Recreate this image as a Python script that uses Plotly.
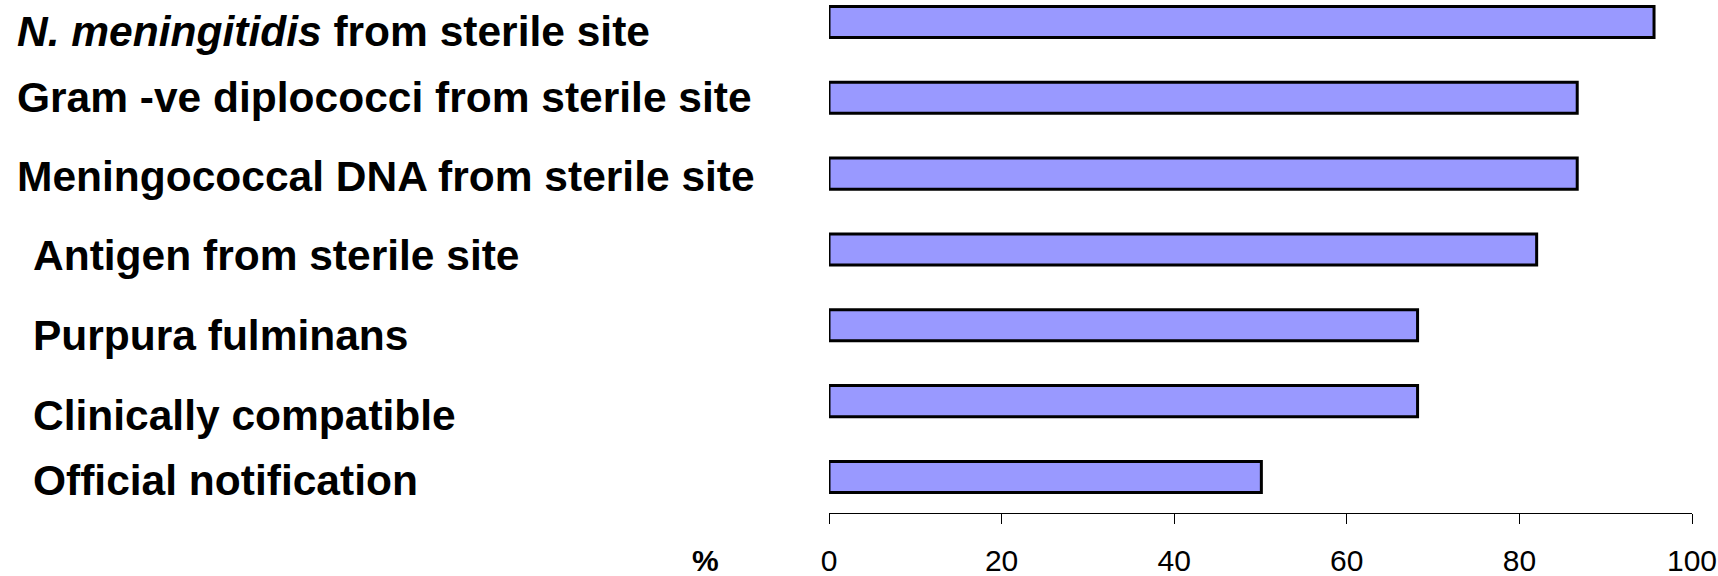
import plotly.graph_objects as go

# ---- data (top to bottom as shown) ----
categories = [
    "<i>N. meningitidis</i> from sterile site",
    "Gram -ve diplococci from sterile site",
    "Meningococcal DNA from sterile site",
    "Antigen from sterile site",
    "Purpura fulminans",
    "Clinically compatible",
    "Official notification",
]
values = [95.6, 86.7, 86.7, 82.0, 68.2, 68.2, 50.1]
x_ticks = [0, 20, 40, 60, 80, 100]
x_title = "%"

# ---- layout constants (pixels) ----
W, H = 1718, 576
ML, MR, MT, MB = 829, 26, 0, 63
PW = W - ML - MR
PH = H - MT - MB

label_left_px = [15, 15, 15, 31, 31, 31, 31]
label_shift_px = [-10, 0, -3, -6, -10, -14, -4]

# plot bottom-first for plotly
cats_b = categories[::-1]
vals_b = values[::-1]

fig = go.Figure(go.Bar(
    y=cats_b, x=vals_b, orientation="h", width=0.41,
    marker=dict(color="#9999FF", line=dict(color="black", width=3)),
    hoverinfo="skip",
))

font_family = "Liberation Sans, Arial, sans-serif"
annotations = []
for cat, lx, sh in zip(categories, label_left_px, label_shift_px):
    annotations.append(dict(
        text="<b>" + cat + "</b>", x=(lx - ML) / PW, xref="paper", xanchor="left",
        y=cat, yref="y", yanchor="middle", yshift=sh, showarrow=False,
        font=dict(family=font_family, size=42.5, color="black"),
    ))
annotations.append(dict(
    text="<b>" + x_title + "</b>", x=(705 - ML) / PW, xref="paper", xanchor="center",
    y=(PH - 560) / PH, yref="paper", yanchor="middle", showarrow=False,
    font=dict(family=font_family, size=30, color="black"),
))

fig.update_layout(
    width=W, height=H,
    margin=dict(l=ML, r=MR, t=MT, b=MB, pad=0),
    paper_bgcolor="white", plot_bgcolor="white",
    showlegend=False,
    annotations=annotations,
    xaxis=dict(
        range=[0, 100], tickvals=x_ticks, ticks="outside", ticklen=10,
        tickcolor="black", tickwidth=1, showline=True, linecolor="black",
        linewidth=1, showgrid=False, zeroline=False, automargin=False,
        ticklabelstandoff=11,
        tickfont=dict(family=font_family, size=30, color="black"),
        fixedrange=True,
    ),
    yaxis=dict(
        type="category", categoryorder="array", categoryarray=cats_b,
        range=[-0.475, 6.29], showticklabels=False, ticks="",
        showgrid=False, zeroline=False, showline=False, fixedrange=True,
        automargin=False,
    ),
)

fig.write_html(
    "out.html",
    config={"displayModeBar": False},
    post_script="document.body.style.margin='0';document.body.style.overflow='hidden';",
)
